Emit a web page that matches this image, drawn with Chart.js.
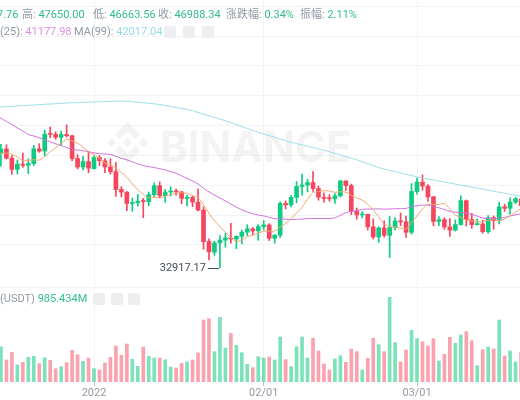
<!DOCTYPE html>
<html>
<head>
<meta charset="utf-8">
<script src="https://cdn.jsdelivr.net/npm/chart.js@4.4.1/dist/chart.umd.min.js"></script>
<style>
html, body { margin: 0; padding: 0; background: #fff; overflow: hidden; width: 520px; height: 400px; }
#wrap { position: relative; width: 520px; height: 400px; }
canvas { position: absolute; left: 0; top: 0; }
.t { position: absolute; font: 11px Roboto, "Noto Sans CJK SC", sans-serif; line-height: 14px; white-space: nowrap; }
.g { color: #929AA5; }
.up { color: #31BE8A; }
.ma25 { color: #DE8FE0; }
.ma99 { color: #93DCE8; }
.ic { position: absolute; width: 12px; height: 12px; background: #EDEEF0; border-radius: 2px; }
</style>
</head>
<body>
<div id="wrap">
  <canvas id="kline" width="520" height="400"></canvas>

  <span class="t up" style="left:-3px;top:8px">7.76</span>
  <span class="t" style="left:22px;top:8px"><span class="g">高:</span> <span class="up">47650.00</span></span>
  <span class="t" style="left:93px;top:8px"><span class="g">低:</span> <span class="up">46663.56</span></span>
  <span class="t" style="left:158px;top:8px"><span class="g">收:</span> <span class="up">46988.34</span></span>
  <span class="t" style="left:226px;top:8px"><span class="g">涨跌幅:</span> <span class="up">0.34%</span></span>
  <span class="t" style="left:300px;top:8px"><span class="g">振幅:</span> <span class="up">2.11%</span></span>

  <span class="t" style="left:0px;top:25px"><span class="g">(25):</span> <span class="ma25">41177.98</span></span>
  <span class="t" style="left:74px;top:25px"><span class="g">MA(99):</span> <span class="ma99">42017.04</span></span>
  <div class="ic" style="left:164px;top:26px"></div>
  <div class="ic" style="left:183px;top:26px"></div>
  <div class="ic" style="left:202px;top:26px"></div>

  <span class="t" style="left:0px;top:292px"><span class="g">(USDT)</span> <span class="up">985.434M</span></span>
  <div class="ic" style="left:93px;top:293px"></div>
  <div class="ic" style="left:111px;top:293px"></div>
  <div class="ic" style="left:128px;top:293px"></div>
</div>

<script>
// daily BTC/USDT, 2021-12-14 .. 2022-03-20 (first entry is day -18 from 2022-01-01)
var firstDay = -18;

var open = [
  46702, 48343, 48864, 47632, 46131, 46834, 46681, 46914, 48887, 48588, 50838, 50821, 50428, 50803, 50640, 47588, 46444, 47165,
  46216, 47722, 47286, 46446, 45833, 43451, 43082, 41567, 41679, 41864, 41822, 42736, 43946, 42598, 43099, 43177, 43113, 42250,
  42374, 41744, 40680, 36471, 35030, 36275, 36654, 36950, 36808, 37160, 37716, 38166, 37881,
  38466, 38694, 36896, 37311, 41571, 41382, 42380, 43839, 44043, 44372, 43566, 42388, 42244, 42197, 42586, 44579, 43961, 40552,
  40026, 40118, 38431, 37068, 38286, 37296, 38328, 39219, 39116, 37699,
  43160, 44421, 43892, 42458, 39148, 39404, 38420, 37988, 38730, 41941, 39422, 38729, 38807, 37777, 39671, 39280, 41114, 40917, 41757, 42201
];
var high = [
  48700, 49500, 49436, 47995, 47392, 48300, 47537, 49328, 49576, 51375, 51810, 51156, 51280, 52088, 50704, 48119, 47879, 48549,
  47954, 47990, 47570, 47557, 47070, 43816, 43145, 42300, 42786, 42248, 43100, 44322, 44459, 43448, 43800, 43476, 43179, 42691,
  42583, 43505, 41100, 36835, 36499, 37247, 37550, 38919, 37234, 38000, 38720, 38359, 38744,
  39265, 38855, 37387, 41772, 41913, 42656, 44500, 45492, 44799, 45821, 43920, 43000, 42760, 42876, 44667, 44583, 44164, 40960,
  40484, 40132, 39494, 38430, 39249, 39843, 39683, 40300, 39886, 44225,
  44950, 45400, 44101, 42527, 39794, 39640, 39547, 39362, 42594, 42039, 40236, 39486, 39310, 39947, 39887, 41718, 41478, 42325, 42400, 42296
];
var low = [
  46290, 46547, 47511, 45456, 45500, 46406, 45558, 46630, 48421, 47920, 50384, 50171, 49412, 50450, 47313, 46201, 46060, 45678,
  46208, 46654, 45696, 45500, 42500, 42430, 40610, 40501, 41200, 39650, 41268, 42450, 42311, 41725, 42555, 42691, 41540, 41250,
  41138, 40553, 35440, 34008, 34601, 32917.17, 35701, 36234, 35507, 36155, 37268, 37351, 36632,
  38000, 36586, 36250, 37026, 40843, 41116, 41645, 42666, 43117, 43174, 42000, 41748, 41870, 41571, 42428, 43311, 40073, 39450,
  39639, 38000, 36800, 36351, 37036, 34322, 38014, 38600, 37000, 37450,
  42809, 43334, 41832, 38550, 38600, 38088, 37155, 37867, 38656, 38539, 38223, 38660, 37578, 37555, 38098, 38828, 40500, 40135, 41499, 40911
];
var close = [
  48343, 48864, 47632, 46131, 46834, 46681, 46914, 48889, 48588, 50838, 50821, 50429, 50810, 50640, 47589, 46444, 47179, 46306,
  47723, 47287, 46446, 45833, 43425, 43082, 41566, 41680, 41864, 41822, 42735, 43949, 42592, 43099, 43177, 43114, 42250, 42375,
  41744, 40680, 36445, 35071, 36276, 36654, 36954, 36809, 37160, 37716, 38166, 37881, 38466,
  38694, 36896, 37311, 41574, 41382, 42380, 43840, 44042, 44372, 43565, 42407, 42244, 42197, 42586, 44575, 43961, 40538, 40030,
  40122, 38431, 37075, 38286, 37296, 38332, 39214, 39105, 37699, 43160,
  44421, 43892, 42454, 39148, 39397, 38420, 37988, 38730, 41941, 39422, 38729, 38807, 37777, 39671, 39280, 41114, 40917, 41757, 42201, 41262
];
// volume, million USDT
var volume = [
  1590, 1871, 1166, 1574, 901, 1044, 1309, 1362, 970, 1288, 1150, 705, 811, 1023, 1680, 1447, 1097, 1272,
  705, 636, 1007, 1309, 1908, 1415, 2014, 1203, 832, 1855, 1362, 1272, 1272, 1182, 795, 742, 991, 1060,
  1166, 1537, 3286, 3355, 1606, 3429, 1802, 2581, 1945, 1553, 938, 758, 1341,
  1272, 1325, 1166, 2385, 1182, 811, 1871, 2385, 1272, 2316, 1643, 954, 636, 1219, 1394, 1044, 1749, 1606,
  636, 1256, 2316, 1977, 1606, 4489, 2083, 1060, 1696, 2740,
  2295, 2136, 1908, 2295, 1113, 1468, 2369, 2051, 2491, 2666, 2189, 864, 1712, 1855, 1749, 3286, 1378, 1643, 1060, 1590
];
var ma7 = [
  48520, 48291, 48303, 48159, 47794, 47312, 47343, 47421, 47381, 47839, 48509, 49023, 49613, 50145, 49959, 49653, 49130, 48485,
  48099, 47595, 46996, 46745, 46314, 45729, 45052, 44188, 43414, 42753, 42311, 42385, 42315, 42534, 42748, 42927, 42988, 42937,
  42622, 42348, 41398, 40240, 39263, 38464, 37689, 36984, 36481, 36663, 37105, 37334, 37593,
  37842, 37854, 37876, 38427, 38886, 39529, 40297, 41061, 42129, 43022, 43141, 43264, 43238, 43059, 43135, 43076, 42644, 42304,
  42001, 41463, 40676, 39778, 38825, 38510, 38394, 38248, 38144, 39013,
  39890, 40832, 41421, 41411, 41453, 41556, 40817, 40004, 39725, 39292, 39232, 39148, 39056, 39297, 39375, 39257, 39471, 39903, 40388, 40886
];
var ma25 = [
  53413, 52980, 52538, 52131, 51702, 51283, 50801, 50608, 50362, 50105, 49825, 49564, 49309, 49076, 48835, 48727, 48638, 48473,
  48358, 48231, 48187, 48135, 47896, 47617, 47412, 47145, 46865, 46633, 46497, 46382, 46218, 46065, 45837, 45618, 45274, 44937,
  44589, 44184, 43616, 43116, 42709, 42288, 41914, 41477, 41072, 40723, 40416, 40194, 40010,
  39895, 39704, 39521, 39512, 39457, 39395, 39445, 39482, 39530, 39548, 39554, 39549, 39567, 39644, 39969, 40324, 40495, 40630,
  40757, 40821, 40818, 40841, 40806, 40824, 40854, 40870, 40903, 41137,
  41250, 41351, 41354, 41166, 40980, 40742, 40519, 40372, 40360, 40249, 40095, 39864, 39617, 39582, 39552, 39592, 39691, 39878, 40035, 40194
];
var ma99 = [
  54451, 54491, 54545, 54585, 54625, 54679, 54719, 54759, 54799, 54853, 54893, 54933, 54973, 55027, 55054, 55081, 55107, 55134,
  55161, 55188, 55215, 55241, 55268, 55295, 55255, 55188, 55121, 55054, 54987, 54920, 54826, 54692, 54558, 54424, 54290, 54156,
  53995, 53767, 53553, 53325, 53097, 52883, 52642, 52387, 52133, 51865, 51610, 51342, 51101,
  50873, 50659, 50431, 50203, 49989, 49774, 49587, 49412, 49238, 49064, 48890, 48702, 48488, 48273, 48059, 47845, 47617, 47402,
  47161, 46907, 46639, 46384, 46183, 46009, 45835, 45647, 45473, 45299,
  45111, 44977, 44843, 44709, 44575, 44441, 44294, 44160, 44026, 43892, 43758, 43624, 43476, 43342, 43208, 43074, 42940, 42793, 42659, 42525
];

var tickDays = [0, 31, 59];
var tickLabels = ['2022', '02/01', '03/01'];
var priceGrid = [36000, 40000, 44000, 48000, 52000, 56000, 60000, 64000, 68000];

var GREEN = '#0ECB81', RED = '#F6465D';
var isUp = close.map((c, i) => c >= open[i]);
var xs = close.map((c, i) => i + firstDay);

var wickData = xs.map((x, i) => ({ x: x, y: [low[i], high[i]] }));
var bodyData = xs.map((x, i) => ({ x: x, y: [open[i], close[i]] }));
var volData = xs.map((x, i) => ({ x: x, y: volume[i] }));
var line = arr => xs.map((x, i) => ({ x: x, y: arr[i] }));
var candleColors = isUp.map(u => u ? GREEN : RED);
var volColors = isUp.map(u => u ? 'rgba(14,203,129,0.55)' : 'rgba(246,70,93,0.5)');

// faint watermark + lowest-low marker
var decor = {
  id: 'decor',
  beforeDatasetsDraw(chart) {
    var ctx = chart.ctx;
    ctx.save();
    ctx.fillStyle = 'rgba(30,35,41,0.055)';
    ctx.translate(107, 122);
    ctx.scale(0.324, 0.324);
    var shapes = [
      [[38.73, 53.2], [63.3, 28.62], [87.89, 53.22], [102.19, 38.92], [63.3, 0], [24.43, 38.91]],
      [[0, 63.31], [14.3, 49], [28.6, 63.31], [14.3, 77.61]],
      [[38.73, 73.41], [63.3, 97.99], [87.89, 73.4], [102.2, 87.69], [63.3, 126.61], [24.42, 87.71]],
      [[98, 63.31], [112.3, 49], [126.6, 63.31], [112.3, 77.61]],
      [[77.83, 63.3], [63.3, 48.78], [48.78, 63.28], [63.3, 77.83]]
    ];
    shapes.forEach(s => {
      ctx.beginPath();
      s.forEach((p, k) => k ? ctx.lineTo(p[0], p[1]) : ctx.moveTo(p[0], p[1]));
      ctx.closePath();
      ctx.fill();
    });
    ctx.restore();
    ctx.save();
    ctx.fillStyle = 'rgba(30,35,41,0.055)';
    ctx.font = 'bold 42px Inter, "Open Sans", sans-serif';
    ctx.textBaseline = 'alphabetic';
    ctx.fillText('BINANCE', 160, 162);
    ctx.restore();
  },
  afterDatasetsDraw(chart) {
    var ctx = chart.ctx;
    var minIdx = 0;
    low.forEach((v, i) => { if (v < low[minIdx]) minIdx = i; });
    var px = chart.scales.x.getPixelForValue(xs[minIdx]);
    var py = chart.scales.y.getPixelForValue(low[minIdx]);
    ctx.save();
    ctx.strokeStyle = '#474D57';
    ctx.lineWidth = 1;
    ctx.beginPath();
    ctx.moveTo(px - 12, Math.round(py) + 0.5);
    ctx.lineTo(px - 1, Math.round(py) + 0.5);
    ctx.stroke();
    ctx.fillStyle = '#474D57';
    ctx.font = '11px Roboto, sans-serif';
    ctx.textAlign = 'right';
    ctx.textBaseline = 'middle';
    ctx.fillText(low[minIdx].toFixed(2), px - 14, py);
    ctx.restore();
  }
};

new Chart(document.getElementById('kline').getContext('2d'), {
  type: 'bar',
  data: {
    datasets: [
      { type: 'line', data: line(ma7), borderColor: 'rgb(240,168,110)', borderWidth: 1, pointRadius: 0, tension: 0.3, yAxisID: 'y', order: 0 },
      { type: 'line', data: line(ma25), borderColor: 'rgb(208,112,222)', borderWidth: 1, pointRadius: 0, tension: 0.3, yAxisID: 'y', order: 0 },
      { type: 'line', data: line(ma99), borderColor: 'rgb(155,222,234)', borderWidth: 1, pointRadius: 0, tension: 0.3, yAxisID: 'y', order: 0 },
      { data: bodyData, backgroundColor: candleColors, barThickness: 4, minBarLength: 1, grouped: false, yAxisID: 'y', order: 1 },
      { data: wickData, backgroundColor: candleColors, barThickness: 1, grouped: false, yAxisID: 'y', order: 2 },
      { data: volData, backgroundColor: volColors, barThickness: 3, grouped: false, yAxisID: 'y2', order: 3 }
    ]
  },
  options: {
    responsive: false,
    devicePixelRatio: 1,
    animation: false,
    layout: { padding: 0 },
    plugins: { legend: { display: false }, tooltip: { enabled: false } },
    scales: {
      x: {
        type: 'linear',
        offset: false,
        min: -17.17,
        max: 77.81,
        afterBuildTicks: a => { a.ticks = tickDays.map(v => ({ value: v })); },
        afterFit: s => { s.height = 18; },
        ticks: {
          autoSkip: false, maxRotation: 0, padding: 1,
          color: '#929AA5', font: { family: 'Roboto', size: 11 },
          callback: v => tickLabels[tickDays.indexOf(v)]
        },
        grid: { offset: false, color: '#F2F3F5', tickColor: '#B7BDC6', tickLength: 4 },
        border: { display: false }
      },
      y: {
        position: 'left',
        min: 17641,
        max: 68829,
        afterBuildTicks: a => { a.ticks = priceGrid.map(v => ({ value: v })); },
        afterFit: s => { s.width = 0; },
        ticks: { display: false },
        grid: { color: '#F2F3F5', drawTicks: false },
        border: { display: false }
      },
      y2: {
        position: 'left',
        min: 0,
        max: 20246,
        afterBuildTicks: a => { a.ticks = [{ value: 5000 }]; },
        afterFit: s => { s.width = 0; },
        ticks: { display: false },
        grid: { color: '#F2F3F5', drawTicks: false },
        border: { display: false }
      }
    }
  },
  plugins: [decor]
});
</script>
</body>
</html>
